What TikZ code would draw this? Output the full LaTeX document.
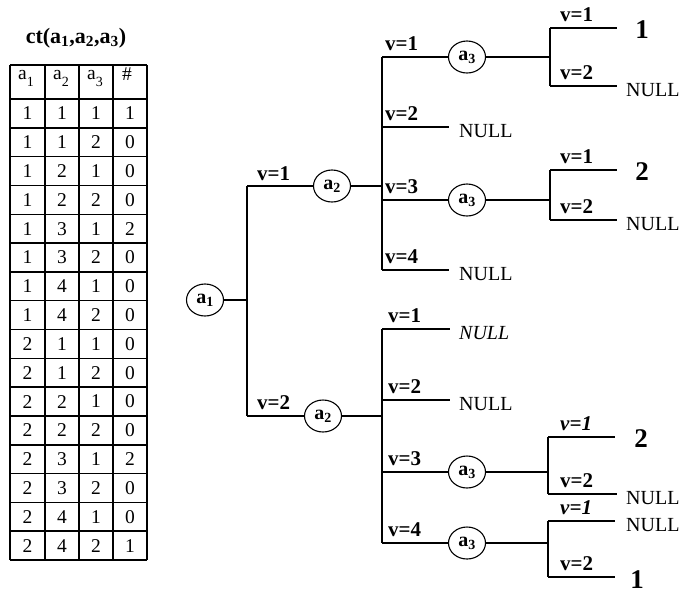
\documentclass[tikz,border=0pt]{standalone}
\usepackage{fontspec}
\setmainfont{Liberation Serif}
\usetikzlibrary{shapes.geometric}
\begin{document}
\begin{tikzpicture}[x=1pt,y=-1pt,
  grid/.style={line width=1.5pt},
  cell/.style={inner sep=0pt,font=\fontsize{19.5}{19.5}\selectfont},
  edge/.style={line width=1.1pt},
  attr/.style={ellipse,draw,line width=1.1pt,minimum width=37pt,minimum height=32pt,inner sep=0pt,
    font=\bfseries\fontsize{20}{20}\selectfont},
  vlab/.style={anchor=base west,inner sep=0pt,font=\bfseries\fontsize{21}{21}\selectfont},
  ivlab/.style={vlab,font=\bfseries\itshape\fontsize{21}{21}\selectfont},
  nul/.style={anchor=west,inner sep=0pt,font=\fontsize{20}{20}\selectfont},
  inul/.style={nul,font=\itshape\fontsize{20}{20}\selectfont},
  leaf/.style={inner sep=0pt,font=\bfseries\fontsize{27}{27}\selectfont}]
\useasboundingbox (0,0) rectangle (679,595);

% ---------- count table ct(a1,a2,a3) ----------
\node[font=\bfseries\fontsize{22}{22}\selectfont] (title) at (76,38)
  {ct(a\textsubscript{1},a\textsubscript{2},a\textsubscript{3})};
\foreach \x in {10,45,79,113,147} \draw[grid] (\x,65) -- (\x,560);
\draw[grid] (10,65) -- (147,65);
\foreach \i in {0,...,16} \draw[grid] (10,99+\i*28.8125) -- (147,99+\i*28.8125);
\node[cell] (h1) at (26,78) {a\raisebox{-7pt}{\fontsize{14}{14}\selectfont 1}};
\node[cell] (h2) at (61,78) {a\raisebox{-7pt}{\fontsize{14}{14}\selectfont 2}};
\node[cell] (h3) at (95,78) {a\raisebox{-7pt}{\fontsize{14}{14}\selectfont 3}};
\node[cell] (h4) at (127,74) {\#};
\foreach \a/\b/\c/\d [count=\i] in {1/1/1/1,1/1/2/0,1/2/1/0,1/2/2/0,1/3/1/2,1/3/2/0,1/4/1/0,1/4/2/0,
    2/1/1/0,2/1/2/0,2/2/1/0,2/2/2/0,2/3/1/2,2/3/2/0,2/4/1/0,2/4/2/1} {
  \node[cell] (r\i c1) at (27.5,99+\i*28.8125-14.4) {\a};
  \node[cell] (r\i c2) at (62,99+\i*28.8125-14.4) {\b};
  \node[cell] (r\i c3) at (96,99+\i*28.8125-14.4) {\c};
  \node[cell] (r\i c4) at (130,99+\i*28.8125-14.4) {\d};
}

% ---------- decision tree ----------
\node[attr] (A1) at (205,300) {a\textsubscript{1}};
\node[attr] (A2t) at (332,186) {a\textsubscript{2}};
\node[attr] (A2b) at (323,416) {a\textsubscript{2}};
\node[attr] (A3a) at (467,57) {a\textsubscript{3}};
\node[attr] (A3b) at (467,200) {a\textsubscript{3}};
\node[attr] (A3c) at (467,472) {a\textsubscript{3}};
\node[attr] (A3d) at (467,543) {a\textsubscript{3}};

% junctions
\coordinate (J1) at (247,300);
\coordinate (J1t) at (247,186);
\coordinate (J1b) at (247,416);
\coordinate (J2) at (382,186);
\coordinate (J2a) at (382,57);
\coordinate (J2b) at (382,127);
\coordinate (J2c) at (382,200);
\coordinate (J2d) at (382,270);
\coordinate (J5) at (382,416);
\coordinate (J5a) at (382,329);
\coordinate (J5b) at (382,400);
\coordinate (J5c) at (382,472);
\coordinate (J5d) at (382,543);
\coordinate (J3) at (550,57);
\coordinate (J3a) at (550,28);
\coordinate (J3b) at (550,86);
\coordinate (J4) at (550,200);
\coordinate (J4a) at (550,170);
\coordinate (J4b) at (550,220);
\coordinate (J6) at (548,472);
\coordinate (J6a) at (548,437);
\coordinate (J6b) at (548,494);
\coordinate (J7) at (548,543);
\coordinate (J7a) at (548,521);
\coordinate (J7b) at (548,577);

% leaves
\node[nul] (N2b) at (459,131) {NULL};
\node[nul] (N2d) at (459,274) {NULL};
\node[nul] (N3b) at (626,90) {NULL};
\node[nul] (N4b) at (626,224) {NULL};
\node[inul] (N5a) at (459,333) {NULL};
\node[nul] (N5b) at (459,404) {NULL};
\node[nul] (N6b) at (626,498) {NULL};
\node[nul] (N7a) at (626,525) {NULL};
\node[leaf] (L3a) at (642,30) {1};
\node[leaf] (L4a) at (642,172) {2};
\node[leaf] (L6a) at (641,439) {2};
\node[leaf] (L7b) at (637,580) {1};

\coordinate (E2b) at (449,127);
\coordinate (E2d) at (449,270);
\coordinate (E3a) at (617,28);
\coordinate (E3b) at (617,86);
\coordinate (E4a) at (617,170);
\coordinate (E4b) at (617,220);
\coordinate (E5a) at (450,329);
\coordinate (E5b) at (450,400);
\coordinate (E6a) at (615,437);
\coordinate (E6b) at (617,494);
\coordinate (E7a) at (615,521);
\coordinate (E7b) at (615,577);

% connectors
\draw[edge] (A1) -- (J1);
\draw[edge] (J1t) -- (J1b);
\draw[edge] (J1t) -- (A2t);
\draw[edge] (J1b) -- (A2b);
\draw[edge] (A2t) -- (J2);
\draw[edge] (J2a) -- (J2d);
\draw[edge] (J2a) -- (A3a);
\draw[edge] (J2b) -- (E2b);
\draw[edge] (J2c) -- (A3b);
\draw[edge] (J2d) -- (E2d);
\draw[edge] (A2b) -- (J5);
\draw[edge] (J5a) -- (J5d);
\draw[edge] (J5a) -- (E5a);
\draw[edge] (J5b) -- (E5b);
\draw[edge] (J5c) -- (A3c);
\draw[edge] (J5d) -- (A3d);
\draw[edge] (A3a) -- (J3);
\draw[edge] (J3a) -- (J3b);
\draw[edge] (J3a) -- (E3a);
\draw[edge] (J3b) -- (E3b);
\draw[edge] (A3b) -- (J4);
\draw[edge] (J4a) -- (J4b);
\draw[edge] (J4a) -- (E4a);
\draw[edge] (J4b) -- (E4b);
\draw[edge] (A3c) -- (J6);
\draw[edge] (J6a) -- (J6b);
\draw[edge] (J6a) -- (E6a);
\draw[edge] (J6b) -- (E6b);
\draw[edge] (A3d) -- (J7);
\draw[edge] (J7a) -- (J7b);
\draw[edge] (J7a) -- (E7a);
\draw[edge] (J7b) -- (E7b);

% branch labels
\node[vlab] (v1t) at (257,180) {v=1};
\node[vlab] (v2b) at (257,409) {v=2};
\node[vlab] (va1) at (385,50) {v=1};
\node[vlab] (va2) at (385,120) {v=2};
\node[vlab] (va3) at (385,193) {v=3};
\node[vlab] (va4) at (385,263) {v=4};
\node[vlab] (vb1) at (388,322) {v=1};
\node[vlab] (vb2) at (388,393) {v=2};
\node[vlab] (vb3) at (388,465) {v=3};
\node[vlab] (vb4) at (388,536) {v=4};
\node[vlab] (vc1) at (560,21) {v=1};
\node[vlab] (vc2) at (560,79) {v=2};
\node[vlab] (vd1) at (560,163) {v=1};
\node[vlab] (vd2) at (560,213) {v=2};
\node[ivlab] (ve1) at (560,430) {v=1};
\node[vlab] (ve2) at (560,487) {v=2};
\node[ivlab] (vf1) at (560,514) {v=1};
\node[vlab] (vf2) at (560,570) {v=2};
\end{tikzpicture}
\end{document}
